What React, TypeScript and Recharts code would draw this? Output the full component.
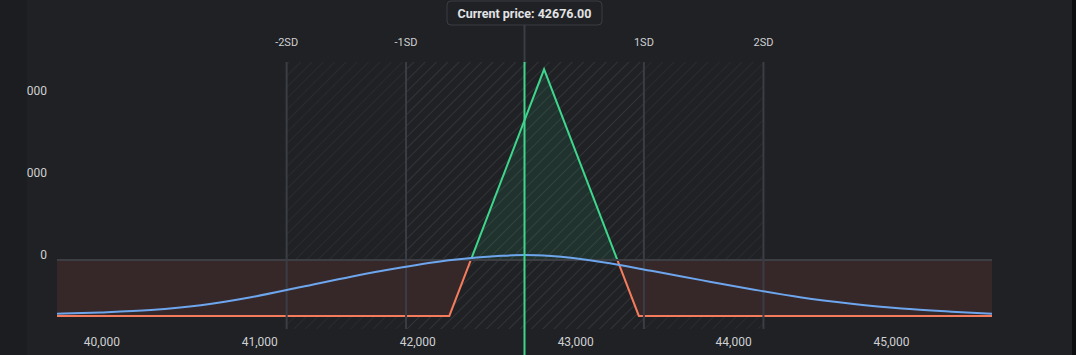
import { Area, ComposedChart, Line, ReferenceArea, ReferenceLine, XAxis, YAxis } from "recharts";

const CURRENT_PRICE = 42676;
const priceDomain = [39716, 45636];
const priceTicks = [40000, 41000, 42000, 43000, 44000, 45000];
const pnlTicks = [0, 1000, 2000];
const pnlDomain = [-839, 2409];

// strategy payoff at expiry (butterfly)
const pnlPrices = [39716, 42200, 42800, 43400, 45636];
const pnlValues = [-680, -680, 2320, -680, -680];

// probability curve, hidden axis units
const probPrices = [
  39716, 39994, 40311, 40627, 40944, 41261, 41578, 41895, 42212, 42529, 42674,
  42845, 43162, 43479, 43796, 44113, 44430, 44747, 45063, 45380, 45636,
];
const probValues = [
  5.7, 6.2, 7.1, 8.9, 11.9, 15.7, 19.6, 23.0, 25.8, 27.4, 27.7, 27.3, 25.1, 21.8,
  18.3, 14.9, 11.8, 9.5, 7.7, 6.5, 5.7,
];

const sdLabels = ["-2SD", "-1SD", "1SD", "2SD"];
const sdPrices = [41170, 41926, 43432, 44189];

const pnlData = pnlPrices.map((price, i) => ({ price, pnl: pnlValues[i] }));
const probData = probPrices.map((price, i) => ({ price, prob: probValues[i] }));

const pnlMax = Math.max(...pnlValues);
const pnlMin = Math.min(...pnlValues);
const zeroOffset = pnlMax / (pnlMax - pnlMin);

const GREEN = "#3dd68c";
const ORANGE = "#f47c5c";
const BLUE = "#6ea6ee";
const GRID = "#3a3d44";
const TEXT = "#cfd0d2";

function PnlTick({ x, y, payload }: any) {
  return (
    <text x={x} y={y} dy={-1} textAnchor="end" fill={TEXT} fontSize={12}>
      {Number(payload.value).toLocaleString("en-US")}
    </text>
  );
}

function CurrentPriceMarker(props: any) {
  const x = props.x1;
  const top = Math.min(props.y1, props.y2);
  return (
    <g>
      <line x1={x} x2={x} y1={25} y2={top} stroke={GRID} strokeWidth={2} />
      <line x1={x} x2={x} y1={top} y2={355} stroke={GREEN} strokeWidth={2} />
      <rect x={x - 77.5} y={1} width={155} height={24} rx={4} fill="#1f2125" stroke="#3a3d42" />
      <text x={x} y={17.5} textAnchor="middle" fill="#e2e3e5" fontSize={12.5} fontWeight={700}>
        Current price: {CURRENT_PRICE.toFixed(2)}
      </text>
    </g>
  );
}

export default function App() {
  return (
    <div
      style={{
        position: "fixed",
        left: 0,
        top: 0,
        width: 1076,
        height: 355,
        background: "#1f2125",
        fontFamily: "Roboto, sans-serif",
        overflow: "hidden",
      }}
    >
      <ComposedChart width={1076} height={355} margin={{ top: 62, right: 84, bottom: 0, left: 0 }}>
        <defs>
          <pattern id="hatch" patternUnits="userSpaceOnUse" width={8} height={8} patternTransform="rotate(45)">
            <line x1={0} y1={0} x2={0} y2={8} stroke="#ffffff" strokeOpacity={0.045} strokeWidth={2} />
          </pattern>
          <linearGradient id="pnlFill" x1="0" y1="0" x2="0" y2="1">
            <stop offset={0} stopColor="#2fd07f" stopOpacity={0.1} />
            <stop offset={zeroOffset} stopColor="#2fd07f" stopOpacity={0.1} />
            <stop offset={zeroOffset} stopColor="#362729" stopOpacity={1} />
            <stop offset={1} stopColor="#362729" stopOpacity={1} />
          </linearGradient>
          <linearGradient id="pnlStroke" x1="0" y1="0" x2="0" y2="1">
            <stop offset={0} stopColor={GREEN} />
            <stop offset={zeroOffset} stopColor={GREEN} />
            <stop offset={zeroOffset} stopColor={ORANGE} />
            <stop offset={1} stopColor={ORANGE} />
          </linearGradient>
        </defs>
        <XAxis
          dataKey="price"
          type="number"
          domain={priceDomain}
          ticks={priceTicks}
          allowDataOverflow
          axisLine={false}
          tickLine={false}
          tickSize={6}
          tickMargin={2}
          height={26}
          tick={{ fill: TEXT, fontSize: 12 }}
          tickFormatter={(v: number) => v.toLocaleString("en-US")}
        />
        <YAxis
          yAxisId="pnl"
          type="number"
          domain={pnlDomain}
          ticks={pnlTicks}
          allowDataOverflow
          width={57}
          axisLine={false}
          tickLine={false}
          tickSize={6}
          tickMargin={4}
          tick={<PnlTick />}
        />
        <YAxis yAxisId="prob" type="number" domain={[0, 100]} hide />
        <ReferenceArea yAxisId="pnl" x1={sdPrices[0]} x2={sdPrices[3]} fill="url(#hatch)" fillOpacity={1} stroke="none" />
        <ReferenceArea yAxisId="pnl" x1={sdPrices[1]} x2={sdPrices[2]} fill="url(#hatch)" fillOpacity={1} stroke="none" />
        <Area
          yAxisId="pnl"
          data={pnlData}
          dataKey="pnl"
          type="linear"
          baseValue={0}
          fill="url(#pnlFill)"
          fillOpacity={1}
          stroke="url(#pnlStroke)"
          strokeWidth={2}
          dot={false}
          activeDot={false}
          isAnimationActive={false}
        />
        <ReferenceLine yAxisId="pnl" y={0} stroke="#3d3e43" strokeWidth={2} />
        {sdPrices.map((p, i) => (
          <ReferenceLine
            key={sdLabels[i]}
            yAxisId="pnl"
            x={p}
            stroke={GRID}
            strokeWidth={2}
            label={{ value: sdLabels[i], position: "top", offset: 16, fill: TEXT, fontSize: 11 }}
          />
        ))}
        <Line
          yAxisId="prob"
          data={probData}
          dataKey="prob"
          type="monotone"
          stroke={BLUE}
          strokeWidth={2}
          dot={false}
          activeDot={false}
          isAnimationActive={false}
        />
        <ReferenceLine yAxisId="pnl" x={CURRENT_PRICE} shape={<CurrentPriceMarker />} />
      </ComposedChart>
      <div style={{ position: "absolute", left: 0, top: 0, width: 27, height: 355, background: "#1b1d20" }} />
      <div style={{ position: "absolute", right: 0, top: 0, width: 4, height: 355, background: "#0d0e10" }} />
    </div>
  );
}
